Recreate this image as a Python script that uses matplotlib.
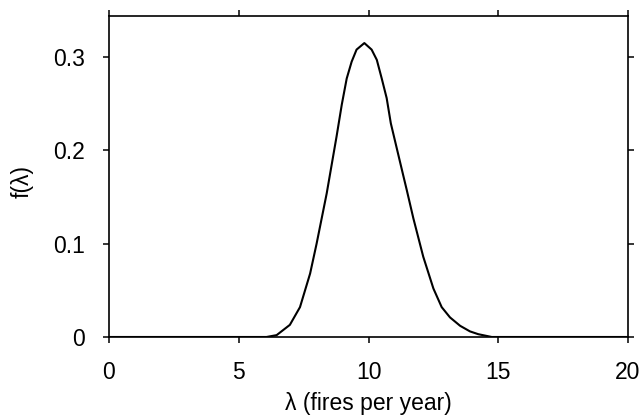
import matplotlib
matplotlib.use("Agg")
import matplotlib.pyplot as plt
from matplotlib.ticker import FuncFormatter

plt.rcParams['font.family'] = ['Liberation Sans', 'DejaVu Sans']

# posterior density of the fire rate
lam = [0.0, 6.07, 6.46, 6.97, 7.36, 7.75, 8.0, 8.39, 8.77, 8.97, 9.16, 9.35,
       9.54, 9.84, 10.12, 10.32, 10.51, 10.70, 10.86, 11.10, 11.34, 11.47,
       11.73, 12.11, 12.5, 12.82, 13.14, 13.53, 13.91, 14.23, 14.75, 20.0]
dens = [0.0, 0.0, 0.002, 0.013, 0.032, 0.068, 0.100, 0.154, 0.215, 0.249,
        0.277, 0.295, 0.308, 0.315, 0.308, 0.297, 0.277, 0.256, 0.229, 0.201,
        0.173, 0.158, 0.127, 0.086, 0.052, 0.032, 0.021, 0.012, 0.006, 0.003,
        0.0, 0.0]

x_ticks = [0, 5, 10, 15, 20]
y_ticks = [0, 0.1, 0.2, 0.3]
fs = 16.5

fig = plt.figure(figsize=(6.43, 4.18), dpi=100)
ax = fig.add_axes([0.1695, 0.1938, 0.8072, 0.7679])

ax.plot(lam, dens, color='black', lw=1.5)

ax.set_xlim(0, 20)
ax.set_ylim(0, 0.344)
ax.set_xticks(x_ticks)
ax.set_yticks(y_ticks)
ax.yaxis.set_major_formatter(FuncFormatter(lambda v, p: '0' if v == 0 else '%.1f' % v))

for s in ax.spines.values():
    s.set_linewidth(1.2)

ax.tick_params(axis='both', direction='out', length=4.5, width=1.1,
               labelsize=fs, top=True, right=True, pad=13)

ax.set_xlabel('λ (fires per year)', fontsize=fs)
ax.set_ylabel('f(λ)', fontsize=fs)
ax.xaxis.set_label_coords(0.5, -0.172)
ax.yaxis.set_label_coords(-0.145, 0.483)

fig.savefig('out.png', dpi=100)
